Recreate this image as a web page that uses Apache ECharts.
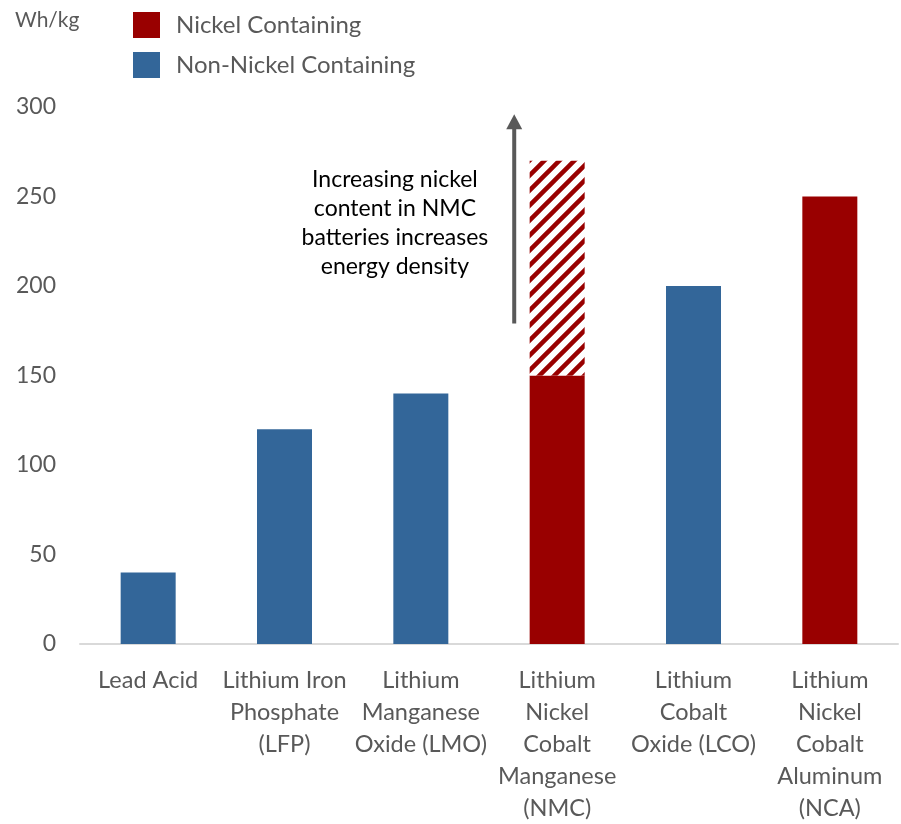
<!DOCTYPE html>
<html><head><meta charset="utf-8">
<script src="https://cdn.jsdelivr.net/npm/echarts@6/dist/echarts.min.js"></script>
<style>html,body{margin:0;padding:0;background:#fff}#c{width:901px;height:824px}</style>
</head><body><div id="c"></div>
<script>
const categories = ['Lead Acid', 'Lithium Iron\nPhosphate\n(LFP)', 'Lithium\nManganese\nOxide (LMO)', 'Lithium\nNickel\nCobalt\nManganese\n(NMC)', 'Lithium\nCobalt\nOxide (LCO)', 'Lithium\nNickel\nCobalt\nAluminum\n(NCA)'];
const nickelValues = ['-', '-', '-', 150, '-', 250];
const nonNickelValues = [40, 120, 140, '-', 200, '-'];
const nmcIncrease = ['-', '-', '-', 120, '-', '-'];
const yTicks = {min: 0, max: 300, interval: 50};
const arrowRange = [179, 296];
const annotation = 'Increasing nickel\ncontent in NMC\nbatteries increases\nenergy density';

const RED = '#990000', BLUE = '#336699', GREY = '#595959', FONT = 'Lato';

// hatch pattern
const pc = document.createElement('canvas');
pc.width = 15; pc.height = 15;
const g = pc.getContext('2d');
g.fillStyle = '#fff'; g.fillRect(0,0,15,15);
g.strokeStyle = RED; g.lineWidth = 4.5;
g.beginPath();
g.moveTo(-3,18); g.lineTo(18,-3);
g.moveTo(-3,3); g.lineTo(3,-3);
g.moveTo(12,18); g.lineTo(18,12);
g.stroke();

const chart = echarts.init(document.getElementById('c'));
chart.setOption({
  animation: false,
  textStyle: {fontFamily: FONT},
  grid: {left: 80, right: 3, top: 107, bottom: 176, containLabel: false},
  legend: {
    orient: 'vertical', left: 133, top: 12, padding: 0, itemWidth: 27, itemHeight: 26, itemGap: 14,
    icon: 'rect', selectedMode: false,
    data: ['Nickel Containing', 'Non-Nickel Containing'],
    textStyle: {fontFamily: FONT, fontSize: 24, color: GREY, padding: [0,0,0,11]}
  },
  xAxis: {
    type: 'category', data: categories,
    axisLine: {lineStyle: {color: '#d9d9d9', width: 2}},
    axisTick: {show: false},
    axisLabel: {interval: 0, fontFamily: FONT, fontSize: 23.5, color: GREY, lineHeight: 32, margin: 20}
  },
  yAxis: {
    type: 'value', min: yTicks.min, max: yTicks.max, interval: yTicks.interval,
    axisLine: {show: false}, axisTick: {show: false}, splitLine: {show: false},
    axisLabel: {fontFamily: FONT, fontSize: 23, color: GREY, margin: 24}
  },
  series: [
    {name: 'Nickel Containing', type: 'bar', stack: 's', data: nickelValues, barWidth: 55, itemStyle: {color: RED}},
    {name: 'Non-Nickel Containing', type: 'bar', stack: 's', data: nonNickelValues, barWidth: 55, itemStyle: {color: BLUE}},
    {name: 'NMC increase', type: 'bar', stack: 's', data: nmcIncrease, barWidth: 55, itemStyle: {color: {image: pc, repeat: 'repeat'}}}
  ]
});

function drawAnnot(){
  const p0 = chart.convertToPixel({gridIndex: 0}, [3, arrowRange[0]]);
  const p1 = chart.convertToPixel({gridIndex: 0}, [3, arrowRange[1]]);
  const step = chart.convertToPixel({gridIndex: 0}, [4, 0])[0] - chart.convertToPixel({gridIndex: 0}, [3, 0])[0];
  const ax = p0[0] - step * 0.315;
  const tx = p0[0] - step * 1.19;
  const ty = chart.convertToPixel({gridIndex: 0}, [3, 235])[1];
  chart.setOption({
    graphic: [
      {type: 'text', left: 15, top: 10, style: {text: 'Wh/kg', fontFamily: FONT, fontSize: 21, fill: GREY}},
      {type: 'line', shape: {x1: ax, y1: p0[1], x2: ax, y2: p1[1] + 12}, style: {stroke: GREY, lineWidth: 4}},
      {type: 'polygon', shape: {points: [[ax, p1[1]], [ax - 8, p1[1] + 15], [ax + 8, p1[1] + 15]]}, style: {fill: GREY}},
      {type: 'text', x: tx, y: ty, style: {text: annotation, fontFamily: FONT, fontSize: 23, lineHeight: 29, fill: '#000', align: 'center', verticalAlign: 'middle'}}
    ]
  });
}
drawAnnot();
</script></body></html>
